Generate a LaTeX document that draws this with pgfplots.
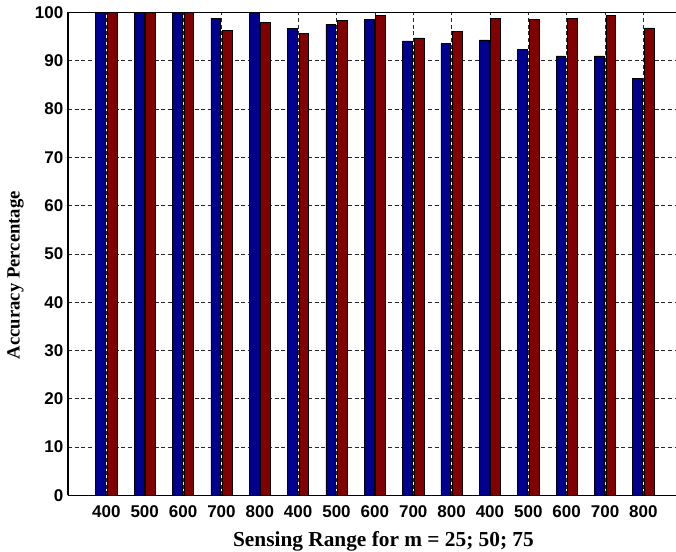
\documentclass[border=0pt]{standalone}
\usepackage{pgfplots}
\pgfplotsset{compat=1.18}
\usepackage{fontspec}
\setmainfont{Liberation Serif}
\newfontfamily\ticksans{Liberation Sans}
\definecolor{barblue}{rgb}{0,0,0.5625}
\definecolor{barred}{rgb}{0.5,0,0}

\begin{document}
\begin{tikzpicture}
\begin{axis}[
  scale only axis, width=456pt, height=362.25pt,
  xmin=0, xmax=15.85, ymin=0, ymax=100,
  axis y line*=left,
  axis line style={line width=0.8pt},
  xtick={1,...,15},
  xticklabels={400,500,600,700,800,400,500,600,700,800,400,500,600,700,800},
  ytick={0,10,...,100},
  major tick length=0pt,
  xmajorgrids, ymajorgrids,
  grid style={black!85, line width=0.5pt, dash pattern=on 3pt off 2pt},
  tick label style={font=\ticksans\bfseries\fontsize{12.75}{15}\selectfont},
  /pgf/number format/assume math mode=true,
  xticklabel style={anchor=base, yshift=-16.4pt},
  xlabel={Sensing Range for m = 25; 50; 75},
  xlabel style={font=\bfseries\fontsize{16}{18}\selectfont,
    at={([xshift=236.6pt,yshift=-38.5pt]rel axis cs:0,0)}, anchor=base},
  ylabel={Accuracy Percentage},
  ylabel style={font=\bfseries\fontsize{14}{16}\selectfont,
    at={([xshift=-39.4pt,yshift=-16pt]rel axis cs:0,0.5)}, anchor=center},
  ybar, bar width=7.3pt,
]
\addplot[ybar, bar shift=-4.3pt, fill=barblue, draw=black, line width=0.5pt] coordinates {
  (1,100) (2,100) (3,100) (4,98.8) (5,100)
  (6,96.6) (7,97.5) (8,98.6) (9,94.1) (10,93.5)
  (11,94.3) (12,92.4) (13,91.0) (14,91.0) (15,86.4)};
\addplot[ybar, bar shift=4.3pt, fill=barred, draw=black, line width=0.5pt] coordinates {
  (1,100) (2,100) (3,100) (4,96.2) (5,97.9)
  (6,95.6) (7,98.3) (8,99.4) (9,94.7) (10,96.0)
  (11,98.8) (12,98.6) (13,98.8) (14,99.4) (15,96.8)};
\end{axis}
\pgfresetboundingbox
\path[use as bounding box] ([shift={(-51pt,-42.45pt)}]current axis.south west)
  rectangle ([shift={(0pt,9.3pt)}]current axis.north east);
\end{tikzpicture}
\end{document}
